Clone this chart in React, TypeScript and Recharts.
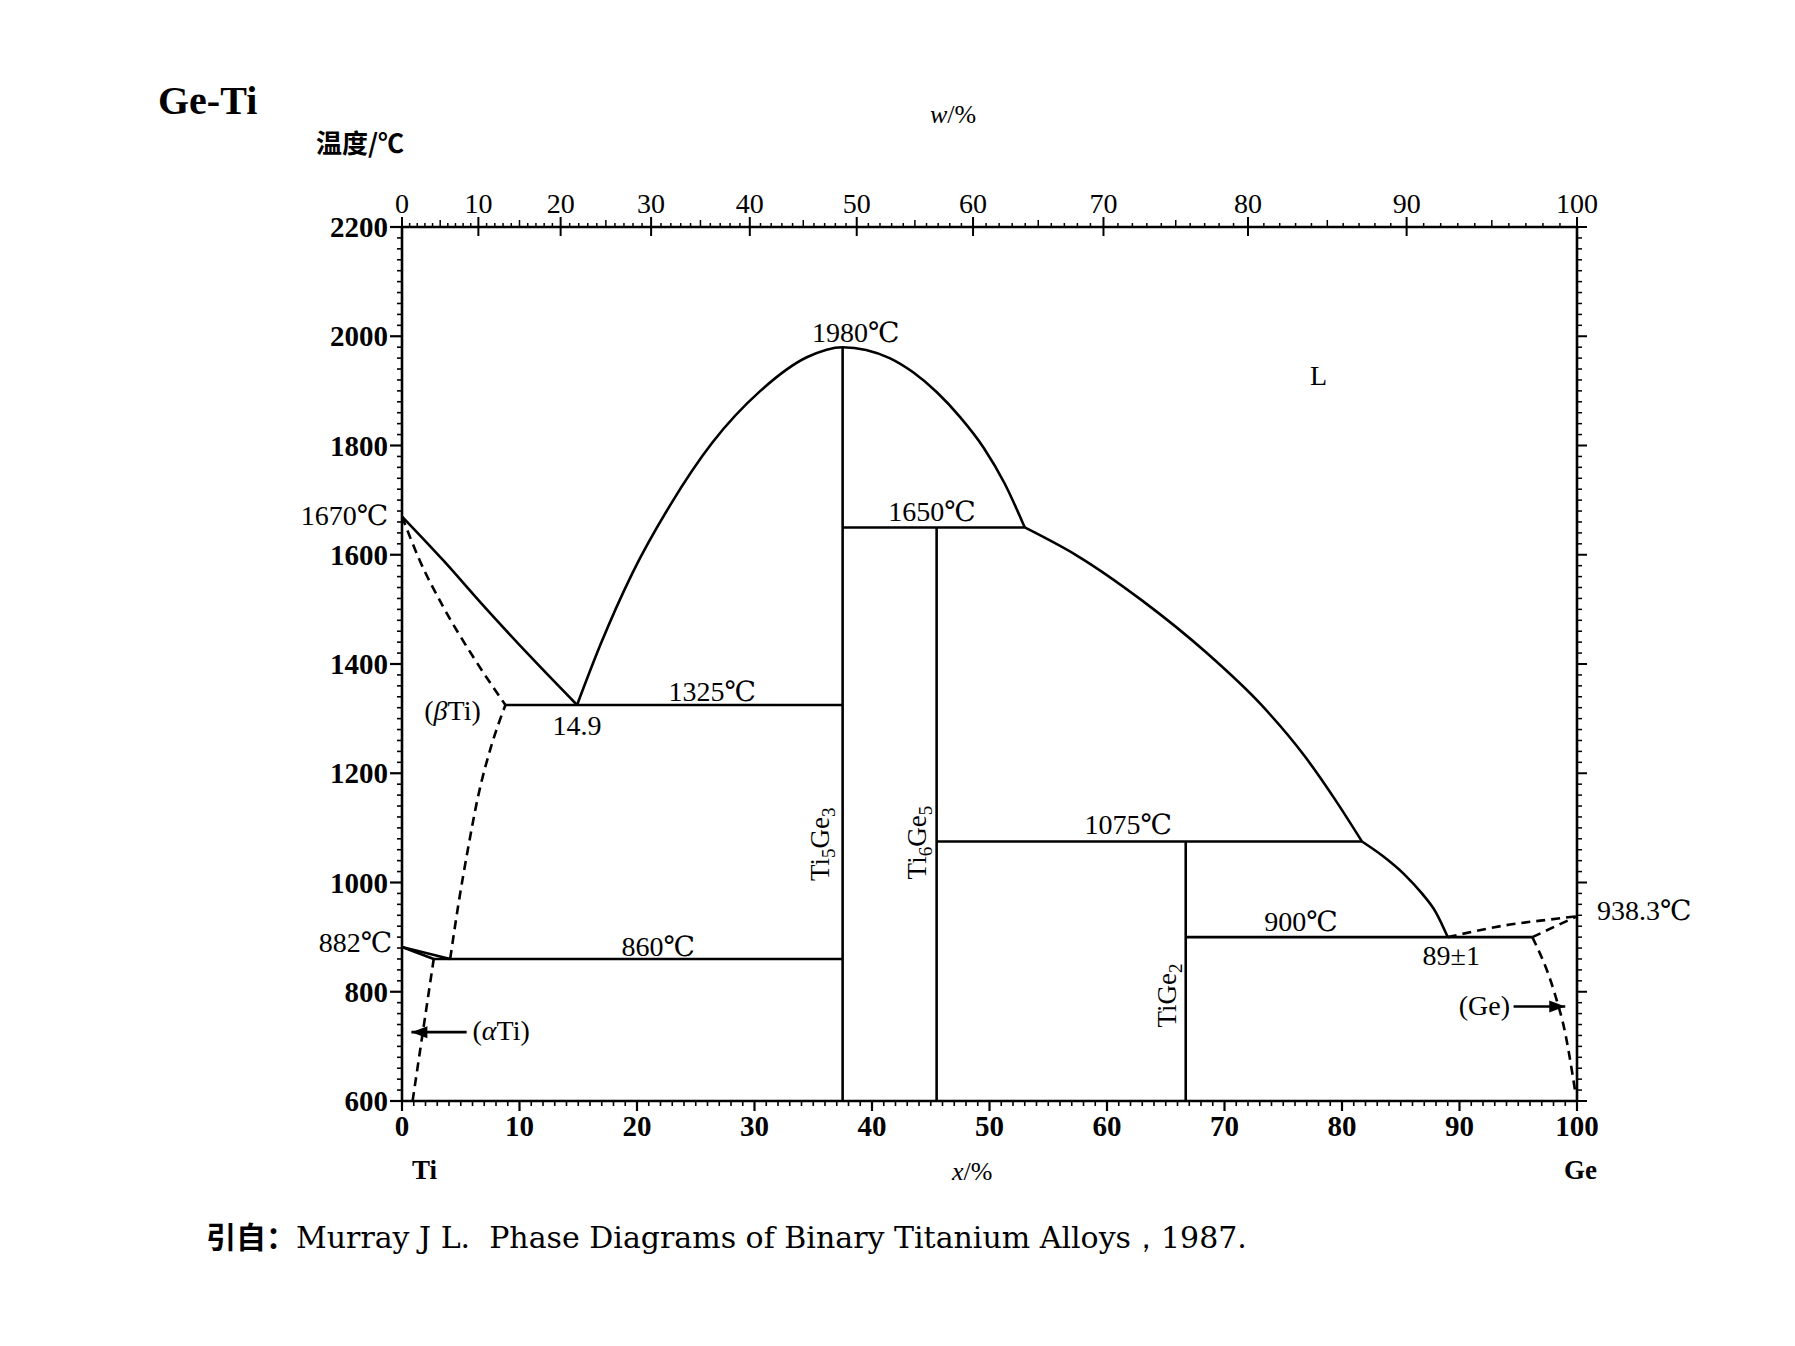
import React from 'react';
import { ComposedChart, Line, Scatter, XAxis, YAxis } from 'recharts';

// ---------- phase boundaries (x: x/% Ge, y: °C) ----------
const liquidusTi = [
  { x: 0, y: 1670 }, { x: 3.5, y: 1590 }, { x: 7, y: 1505 }, { x: 11, y: 1412 }, { x: 14.9, y: 1325 },
];
const solidusBetaTi = [
  { x: 0, y: 1670 }, { x: 1.5, y: 1590 }, { x: 3.5, y: 1505 }, { x: 6, y: 1415 }, { x: 8.8, y: 1325 },
];
const solvusBetaTi = [
  { x: 4.1, y: 860 }, { x: 4.8, y: 960 }, { x: 5.6, y: 1060 }, { x: 6.5, y: 1160 }, { x: 7.6, y: 1250 }, { x: 8.8, y: 1325 },
];
const solvusAlphaTi = [
  { x: 0.9, y: 600 }, { x: 1.8, y: 730 }, { x: 2.7, y: 860 },
];
const transusAlpha = [{ x: 0, y: 882 }, { x: 2.7, y: 860 }];
const transusBeta = [{ x: 0, y: 882 }, { x: 4.1, y: 860 }];
const liquidusTi5Ge3 = [
  { x: 14.9, y: 1325 }, { x: 16.9, y: 1436 }, { x: 19.6, y: 1566 }, { x: 22.8, y: 1690 }, { x: 26.4, y: 1805 },
  { x: 30.5, y: 1900 }, { x: 34.5, y: 1962 }, { x: 37.5, y: 1980 }, { x: 39.5, y: 1975 }, { x: 41.5, y: 1960 },
  { x: 43.5, y: 1934 }, { x: 45.5, y: 1898 }, { x: 47.5, y: 1852 }, { x: 49.5, y: 1796 }, { x: 51.3, y: 1730 },
  { x: 53.0, y: 1650 },
];
const liquidusUpper = [
  { x: 53.0, y: 1650 }, { x: 57.4, y: 1599 }, { x: 63.0, y: 1516 }, { x: 68.5, y: 1420 }, { x: 73.1, y: 1326 },
  { x: 76.8, y: 1232 }, { x: 79.5, y: 1149 }, { x: 81.7, y: 1075 },
];
const liquidusLower = [
  { x: 81.7, y: 1075 }, { x: 83.5, y: 1048 }, { x: 85.3, y: 1015 }, { x: 86.8, y: 980 }, { x: 88, y: 945 }, { x: 89, y: 900 },
];
const liquidusGe = [
  { x: 89, y: 900 }, { x: 94.3, y: 923 }, { x: 98.4, y: 934 }, { x: 100, y: 938.3 },
];
const solidusGe = [{ x: 96.2, y: 900 }, { x: 100, y: 938.3 }];
const solvusGe = [
  { x: 96.2, y: 900 }, { x: 98.1, y: 797 }, { x: 99.0, y: 724 }, { x: 99.6, y: 651 }, { x: 99.9, y: 610 },
];
const iso1325 = [{ x: 8.8, y: 1325 }, { x: 37.5, y: 1325 }];
const iso860 = [{ x: 2.7, y: 860 }, { x: 37.5, y: 860 }];
const iso1650 = [{ x: 37.5, y: 1650 }, { x: 53.0, y: 1650 }];
const iso1075 = [{ x: 45.5, y: 1075 }, { x: 81.7, y: 1075 }];
const iso900 = [{ x: 66.7, y: 900 }, { x: 96.2, y: 900 }];
const ti5ge3 = [{ x: 37.5, y: 600 }, { x: 37.5, y: 1980 }];
const ti6ge5 = [{ x: 45.5, y: 600 }, { x: 45.5, y: 1650 }];
const tige2 = [{ x: 66.7, y: 600 }, { x: 66.7, y: 1075 }];
const arrowAlphaShaft = [{ x: 0.8, y: 726 }, { x: 5.5, y: 726 }];
const arrowGeShaft = [{ x: 94.6, y: 773 }, { x: 99.0, y: 773 }];
const arrowHeads = [
  { x: 0.8, y: 726, dir: -1 },
  { x: 99.0, y: 773, dir: 1 },
];
const frameRange = [{ x: 0, y: 600 }, { x: 100, y: 2200 }];

// ---------- annotations ----------
const labels = [
  { x: 38.6, y: 1990, text: '1980℃', anchor: 'middle', dx: 0 },
  { x: 45.1, y: 1662, text: '1650℃', anchor: 'middle', dx: 0 },
  { x: 26.4, y: 1333, text: '1325℃', anchor: 'middle', dx: 0 },
  { x: 14.9, y: 1270, text: '14.9', anchor: 'middle', dx: 0 },
  { x: 4.3, y: 1297, text: '(βTi)', anchor: 'middle', dx: 0 },
  { x: 21.8, y: 866, text: '860℃', anchor: 'middle', dx: 0 },
  { x: 6.0, y: 712, text: '(αTi)', anchor: 'start', dx: 0 },
  { x: 61.8, y: 1088, text: '1075℃', anchor: 'middle', dx: 0 },
  { x: 76.5, y: 912, text: '900℃', anchor: 'middle', dx: 0 },
  { x: 89.3, y: 849, text: '89±1', anchor: 'middle', dx: 0 },
  { x: 94.3, y: 758, text: '(Ge)', anchor: 'end', dx: 0 },
  { x: 78, y: 1911, text: 'L', anchor: 'middle', dx: 0 },
  { x: 100, y: 932, text: '938.3℃', anchor: 'start', dx: 20 },
  { x: 0, y: 1655, text: '1670℃', anchor: 'end', dx: -14 },
  { x: 0, y: 873, text: '882℃', anchor: 'end', dx: -10 },
];
const compoundLabels = [
  { x: 36.3, y: 1070, parts: [['Ti', 0], ['5', 1], ['Ge', 0], ['3', 1]] },
  { x: 44.6, y: 1073, parts: [['Ti', 0], ['6', 1], ['Ge', 0], ['5', 1]] },
  { x: 65.9, y: 793, parts: [['Ti', 0], ['Ge', 0], ['2', 1]] },
];

// ---------- axes ----------
const xMajorTicks = [0, 10, 20, 30, 40, 50, 60, 70, 80, 90, 100];
const yMajorTicks = [600, 800, 1000, 1200, 1400, 1600, 1800, 2000, 2200];
const topLabels = [0, 10, 20, 30, 40, 50, 60, 70, 80, 90, 100]; // w/%
const topLabelAt = [0, 6.5, 13.5, 21.2, 29.6, 38.7, 48.6, 59.7, 72.0, 85.5, 100]; // read positions on x/% scale

const xTicks: number[] = [];
for (let v = 0; v <= 100; v += 1) xTicks.push(v);
const yTicks: number[] = [];
for (let v = 600; v <= 2200; v += 20) yTicks.push(v);
const topTicks: number[] = [];
for (let k = 0; k < topLabelAt.length - 1; k++) {
  for (let j = 0; j < 10; j++) topTicks.push(topLabelAt[k] + ((topLabelAt[k + 1] - topLabelAt[k]) * j) / 10);
}
topTicks.push(100);

const SERIF = "'Liberation Serif','Times New Roman','DejaVu Serif',serif";
const W = 1779;
const H = 1330;
const margin = { top: 179, right: 180, bottom: 197, left: 334 };
const LW = 2.6;

function BottomTick(props: any) {
  const { x, y, payload } = props;
  const v = payload.value;
  const major = xMajorTicks.includes(v);
  return (
    <g>
      <line x1={x} x2={x} y1={y} y2={y + (major ? 10 : 5)} stroke="#000" strokeWidth={major ? 2.2 : 1.6} />
      {major && (
        <text x={x} y={y + 35} textAnchor="middle" fontFamily={SERIF} fontWeight="bold" fontSize={29} fill="#000">
          {v}
        </text>
      )}
    </g>
  );
}

function LeftTick(props: any) {
  const { x, y, payload } = props;
  const v = payload.value;
  const major = yMajorTicks.includes(v);
  return (
    <g>
      <line x1={x} x2={x - (major ? 12 : 5)} y1={y} y2={y} stroke="#000" strokeWidth={major ? 2.2 : 1.6} />
      {major && (
        <text x={x - 14} y={y + 10} textAnchor="end" fontFamily={SERIF} fontWeight="bold" fontSize={29} fill="#000">
          {v}
        </text>
      )}
    </g>
  );
}

function RightTick(props: any) {
  const { x, y, payload } = props;
  const v = payload.value;
  const major = yMajorTicks.includes(v);
  return <line x1={x} x2={x + (major ? 10 : 5)} y1={y} y2={y} stroke="#000" strokeWidth={major ? 2 : 1.5} />;
}

function TopTick(props: any) {
  const { x, y, index } = props;
  const wt = index;
  const major = wt % 10 === 0;
  const mid = wt % 5 === 0;
  return (
    <g>
      <line x1={x} x2={x} y1={y} y2={y - (major ? 10 : mid ? 7 : 4)} stroke="#000" strokeWidth={major ? 2 : 1.5} />
      {major && <line x1={x} x2={x} y1={y} y2={y + 9} stroke="#000" strokeWidth={2} />}
      {major && (
        <text x={x} y={y - 14} textAnchor="middle" fontFamily={SERIF} fontSize={28} fill="#000">
          {topLabels[wt / 10]}
        </text>
      )}
    </g>
  );
}

function renderText(t: string) {
  return t.split(/([αβ])/).map((s, i) =>
    s === 'α' || s === 'β' ? (
      <tspan key={i} fontStyle="italic">{s}</tspan>
    ) : (
      <tspan key={i}>{s}</tspan>
    )
  );
}

function LabelShape(props: any) {
  const { cx, cy, payload } = props;
  if (cx == null || cy == null) return <g />;
  return (
    <text
      x={cx + (payload.dx || 0)}
      y={cy}
      textAnchor={payload.anchor}
      fontFamily={SERIF}
      fontSize={28}
      fill="#000"
    >
      {renderText(payload.text)}
    </text>
  );
}

function CompoundShape(props: any) {
  const { cx, cy, payload } = props;
  if (cx == null || cy == null) return <g />;
  let sub = false;
  return (
    <text
      x={cx}
      y={cy}
      textAnchor="middle"
      fontFamily={SERIF}
      fontSize={27}
      fill="#000"
      transform={`rotate(-90 ${cx} ${cy})`}
    >
      {payload.parts.map((p: any, i: number) => {
        const isSub = p[1] === 1;
        const dy = isSub && !sub ? 6 : !isSub && sub ? -6 : 0;
        sub = isSub;
        return (
          <tspan key={i} dy={dy} fontSize={isSub ? 19 : 27}>
            {p[0]}
          </tspan>
        );
      })}
    </text>
  );
}

function ArrowShape(props: any) {
  const { cx, cy, payload } = props;
  if (cx == null || cy == null) return <g />;
  const d = payload.dir;
  const bx = cx - d * 16;
  return <polygon points={`${cx},${cy} ${bx},${cy - 6} ${bx},${cy + 6}`} fill="#000" />;
}

const solid = (data: any[], key: string, type: any = 'linear') => (
  <Line
    key={key}
    data={data}
    dataKey="y"
    type={type}
    stroke="#000"
    strokeWidth={LW}
    dot={false}
    activeDot={false}
    isAnimationActive={false}
  />
);
const dashed = (data: any[], key: string, type: any = 'linear') => (
  <Line
    key={key}
    data={data}
    dataKey="y"
    type={type}
    stroke="#000"
    strokeWidth={LW}
    strokeDasharray="9 6"
    dot={false}
    activeDot={false}
    isAnimationActive={false}
  />
);

export default function App() {
  return (
    <div style={{ position: 'relative', width: W, height: H, background: '#fff' }}>
      <ComposedChart width={W} height={H} margin={margin}>
        <XAxis
          dataKey="x"
          type="number"
          domain={[0, 100]}
          ticks={xTicks}
          interval={0}
          tick={<BottomTick />}
          tickLine={false}
          tickSize={0}
          tickMargin={0}
          height={40}
          axisLine={{ stroke: '#000', strokeWidth: LW }}
        />
        <XAxis
          xAxisId="top"
          orientation="top"
          dataKey="x"
          type="number"
          domain={[0, 100]}
          ticks={topTicks}
          interval={0}
          tick={<TopTick />}
          tickLine={false}
          tickSize={0}
          tickMargin={0}
          height={40}
          axisLine={{ stroke: '#000', strokeWidth: LW }}
        />
        <YAxis
          dataKey="y"
          type="number"
          domain={[600, 2200]}
          ticks={yTicks}
          interval={0}
          tick={<LeftTick />}
          tickLine={false}
          tickSize={0}
          tickMargin={0}
          width={60}
          axisLine={{ stroke: '#000', strokeWidth: LW }}
        />
        <YAxis
          yAxisId="right"
          orientation="right"
          dataKey="y"
          type="number"
          domain={[600, 2200]}
          ticks={yTicks}
          interval={0}
          tick={<RightTick />}
          tickLine={false}
          tickSize={0}
          tickMargin={0}
          width={30}
          axisLine={{ stroke: '#000', strokeWidth: LW }}
        />
        <Line
          data={frameRange}
          dataKey="y"
          xAxisId="top"
          yAxisId="right"
          stroke="none"
          strokeWidth={0}
          dot={false}
          activeDot={false}
          isAnimationActive={false}
        />
        {solid(liquidusTi, 'liqTi', 'monotone')}
        {dashed(solidusBetaTi, 'solBeta', 'monotone')}
        {dashed(solvusBetaTi, 'svBeta', 'monotone')}
        {dashed(solvusAlphaTi, 'svAlpha', 'monotone')}
        {solid(transusAlpha, 'trA')}
        {solid(transusBeta, 'trB')}
        {solid(liquidusTi5Ge3, 'liq53', 'monotone')}
        {solid(liquidusUpper, 'liqUp', 'monotone')}
        {solid(liquidusLower, 'liqLow', 'monotone')}
        {dashed(liquidusGe, 'liqGe', 'monotone')}
        {dashed(solidusGe, 'solGe')}
        {dashed(solvusGe, 'svGe', 'monotone')}
        {solid(iso1325, 'i1325')}
        {solid(iso860, 'i860')}
        {solid(iso1650, 'i1650')}
        {solid(iso1075, 'i1075')}
        {solid(iso900, 'i900')}
        {solid(ti5ge3, 'c53')}
        {solid(ti6ge5, 'c65')}
        {solid(tige2, 'c12')}
        {solid(arrowAlphaShaft, 'arA')}
        {solid(arrowGeShaft, 'arG')}
        <Scatter data={arrowHeads} dataKey="y" shape={<ArrowShape />} isAnimationActive={false} />
        <Scatter data={labels} dataKey="y" shape={<LabelShape />} isAnimationActive={false} />
        <Scatter data={compoundLabels} dataKey="y" shape={<CompoundShape />} isAnimationActive={false} />
      </ComposedChart>
      <svg
        width={W}
        height={H}
        style={{ position: 'absolute', left: 0, top: 0, pointerEvents: 'none' }}
      >
        <text x={150} y={106} fontFamily={SERIF} fontWeight="bold" fontSize={40} fill="#000">
          Ge-Ti
        </text>
        <text x={308} y={145} fontFamily="'Noto Sans CJK SC',sans-serif" fontWeight="bold" fontSize={26} fill="#000">
          温度/℃
        </text>
        <text x={922} y={115} fontFamily={SERIF} fontSize={26} fill="#000">
          <tspan fontStyle="italic">w</tspan>/%
        </text>
        <text x={944} y={1172} fontFamily={SERIF} fontSize={26} fill="#000">
          <tspan fontStyle="italic">x</tspan>/%
        </text>
        <text x={404} y={1171} fontFamily={SERIF} fontWeight="bold" fontSize={27} fill="#000">
          Ti
        </text>
        <text x={1556} y={1171} fontFamily={SERIF} fontWeight="bold" fontSize={27} fill="#000">
          Ge
        </text>
        <text x={198} y={1240} fontFamily="'DejaVu Serif',serif" fontSize={30} fill="#000">
          <tspan fontFamily="'Noto Sans CJK SC',sans-serif" fontWeight="bold">引自：</tspan>
          {'Murray J L.\u00a0\u00a0Phase Diagrams of Binary Titanium Alloys，1987.'}
        </text>
      </svg>
    </div>
  );
}
